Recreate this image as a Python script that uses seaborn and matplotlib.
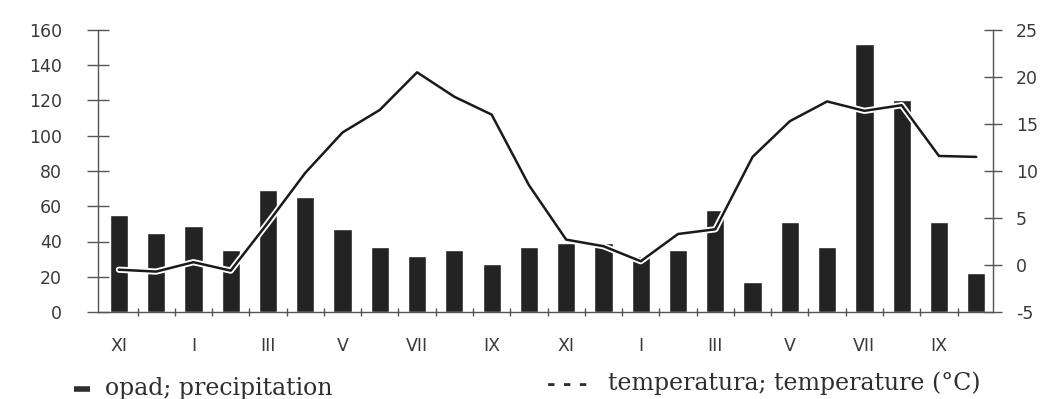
import matplotlib
matplotlib.use("Agg")
import matplotlib.pyplot as plt
import matplotlib.patheffects as pe
from matplotlib.lines import Line2D
import seaborn as sns
import pandas as pd
import numpy as np

months = ["XI", "XII", "I", "II", "III", "IV", "V", "VI", "VII", "VIII", "IX", "X",
          "XI", "XII", "I", "II", "III", "IV", "V", "VI", "VII", "VIII", "IX", "X"]
precipitation = [55, 45, 49, 35, 69, 65, 47, 37, 32, 35, 27, 37,
                 39, 39, 32, 35, 58, 17, 51, 37, 152, 120, 51, 22]
temperature = [-0.5, -0.7, 0.3, -0.6, 4.5, 9.8, 14.1, 16.5, 20.5, 17.9, 16.0, 8.5,
               2.7, 2.0, 0.4, 3.3, 3.8, 11.5, 15.3, 17.4, 16.4, 17.0, 11.6, 11.5]
tick_labels = ["XI", "I", "III", "V", "VII", "IX", "XI", "I", "III", "V", "VII", "IX"]
left_ticks = [0, 20, 40, 60, 80, 100, 120, 140, 160]
right_ticks = [-5, 0, 5, 10, 15, 20, 25]

sns.set_style("white")
plt.rcParams["font.family"] = ["DejaVu Sans"]

df = pd.DataFrame({"idx": np.arange(len(months)), "month": months,
                   "precip": precipitation, "temp": temperature})

fig = plt.figure(figsize=(10.55, 3.99), dpi=100)
ax = fig.add_axes([98 / 1055, 1 - 312 / 399, (993 - 98) / 1055, (312 - 30) / 399])

sns.barplot(data=df, x="idx", y="precip", color="#232323", width=0.49,
            saturation=1, ax=ax, order=list(range(len(months))))
ax.set_xlim(-0.56, 23.45)
ax.set_ylim(0, 160)
ax.set_xlabel("")
ax.set_ylabel("")

ax2 = ax.twinx()
sns.lineplot(data=df, x="idx", y="temp", color="#1a1a1a", linewidth=1.8, ax=ax2,
             path_effects=[pe.Stroke(linewidth=4.5, foreground="white"), pe.Normal()])
ax2.set_ylim(-5, 25)
ax2.set_xlim(-0.56, 23.45)
ax2.set_xlabel("")
ax2.set_ylabel("")

spine_color = "#555555"
for a in (ax, ax2):
    a.spines["top"].set_visible(False)
    for s in ("left", "right", "bottom"):
        a.spines[s].set_color(spine_color)
        a.spines[s].set_linewidth(1.0)
ax.spines["right"].set_visible(False)
ax2.spines["left"].set_visible(False)
ax2.spines["bottom"].set_visible(False)

ax.set_yticks(left_ticks)
ax.set_yticklabels([str(t) for t in left_ticks])
ax.tick_params(axis="y", direction="inout", length=16, width=1.0, color=spine_color,
               labelsize=12.5, labelcolor="#3a3a3a", pad=18, left=True)
ax2.set_yticks(right_ticks)
ax2.set_yticklabels([str(t) for t in right_ticks])
ax2.tick_params(axis="y", direction="inout", length=13, width=1.0, color=spine_color,
                labelsize=12.5, labelcolor="#3a3a3a", pad=10, right=True)

ax.set_xticks(np.arange(0, 24, 2))
ax.set_xticklabels(tick_labels)
ax.set_xticks(np.arange(0.5, 23.5, 1.0), minor=True)
ax.tick_params(axis="x", which="major", length=0, labelsize=12.5, labelcolor="#3a3a3a", pad=18)
ax.tick_params(axis="x", which="minor", direction="inout", length=6, width=1.0,
               color=spine_color, bottom=True)

legend_color = "#2e2e2e"
# legend key for precipitation: short thick bar
fig.add_artist(Line2D([74 / 1055, 90 / 1055], [1 - 389 / 399, 1 - 389 / 399],
                      transform=fig.transFigure, color=legend_color, linewidth=4,
                      solid_capstyle="butt"))
fig.text(105 / 1055, 1 - 388 / 399, "opad; precipitation", family="DejaVu Serif",
         fontsize=17, color=legend_color, va="center", ha="left")
fig.text(547 / 1055, 1 - 384 / 399, "- - -", family="DejaVu Serif", fontsize=15,
         fontweight="bold", color=legend_color, va="center", ha="left")
fig.text(608 / 1055, 1 - 383 / 399, "temperatura; temperature (°C)",
         family="DejaVu Serif", fontsize=17, color=legend_color, va="center", ha="left")

fig.savefig("out.png", dpi=100)
